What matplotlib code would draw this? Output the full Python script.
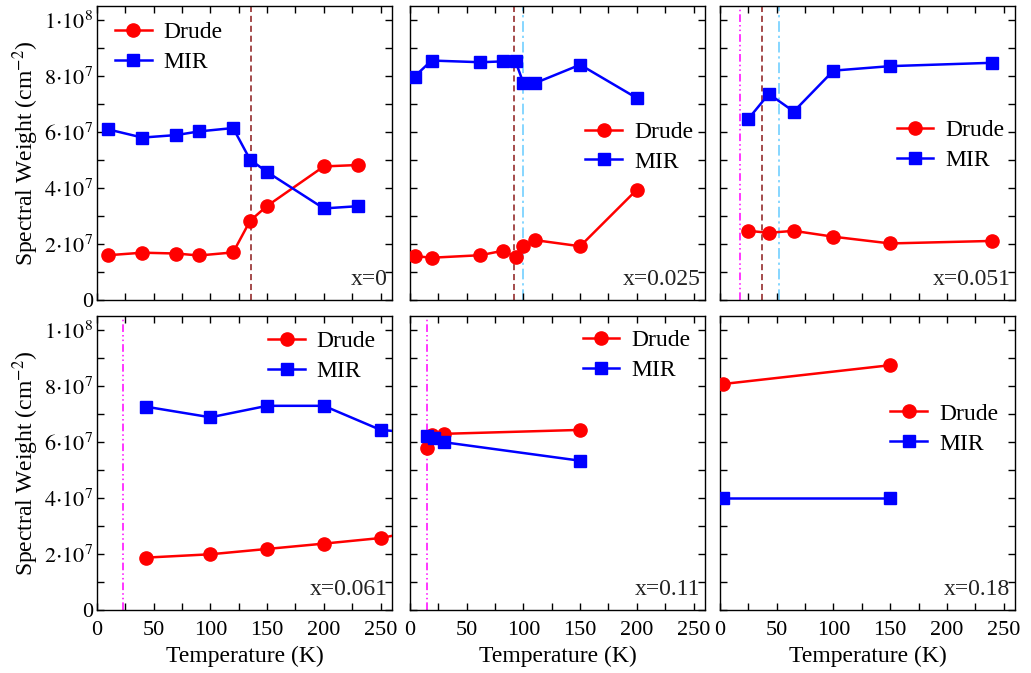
import matplotlib
matplotlib.use("Agg")
import matplotlib.pyplot as plt
from matplotlib.ticker import MultipleLocator, FuncFormatter

plt.rcParams['font.family'] = ['Liberation Serif', 'DejaVu Serif']
plt.rcParams['mathtext.fontset'] = 'stix'

# ---------------- data ----------------
labels = ["x=0", "x=0.025", "x=0.051", "x=0.061", "x=0.11", "x=0.18"]

T_drude_0 = [10, 40, 70, 90, 120, 135, 150, 200, 230]
drude_0 = [1.60e7, 1.69e7, 1.66e7, 1.59e7, 1.70e7, 2.83e7, 3.36e7, 4.77e7, 4.82e7]
T_mir_0 = [10, 40, 70, 90, 120, 135, 150, 200, 230]
mir_0 = [6.09e7, 5.80e7, 5.89e7, 6.02e7, 6.14e7, 5.01e7, 4.57e7, 3.27e7, 3.35e7]

T_drude_1 = [4, 19, 62, 82, 93, 100, 110, 150, 200]
drude_1 = [1.57e7, 1.51e7, 1.60e7, 1.76e7, 1.54e7, 1.94e7, 2.14e7, 1.92e7, 3.94e7]
T_mir_1 = [4, 19, 62, 82, 93, 100, 110, 150, 200]
mir_1 = [7.98e7, 8.55e7, 8.49e7, 8.52e7, 8.52e7, 7.74e7, 7.74e7, 8.40e7, 7.21e7]

T_drude_2 = [25, 43, 65, 100, 150, 240]
drude_2 = [2.47e7, 2.40e7, 2.47e7, 2.26e7, 2.02e7, 2.11e7]
T_mir_2 = [25, 43, 65, 100, 150, 240]
mir_2 = [6.47e7, 7.36e7, 6.73e7, 8.19e7, 8.35e7, 8.47e7]

T_drude_3 = [43, 100, 150, 200, 250, 300]
drude_3 = [1.87e7, 1.99e7, 2.18e7, 2.37e7, 2.57e7, 2.95e7]
T_mir_3 = [43, 100, 150, 200, 250, 300]
mir_3 = [7.26e7, 6.88e7, 7.29e7, 7.29e7, 6.43e7, 6.26e7]

T_drude_4 = [15, 19, 30, 150]
drude_4 = [5.77e7, 6.25e7, 6.29e7, 6.43e7]
T_mir_4 = [15, 21, 30, 150]
mir_4 = [6.21e7, 6.13e7, 5.99e7, 5.33e7]

T_drude_5 = [3, 150]
drude_5 = [8.07e7, 8.74e7]
T_mir_5 = [3, 150]
mir_5 = [3.99e7, 3.99e7]

# vertical marker temperatures per panel: (T, kind)
vlines = [
    [(136, 'dash')],
    [(92, 'dash'), (100, 'dashdot')],
    [(18, 'dashdotdot'), (37, 'dash'), (52, 'dashdot')],
    [(23, 'dashdotdot')],
    [(15, 'dashdotdot')],
    [],
]

drude_T = [T_drude_0, T_drude_1, T_drude_2, T_drude_3, T_drude_4, T_drude_5]
drude_v = [drude_0, drude_1, drude_2, drude_3, drude_4, drude_5]
mir_T = [T_mir_0, T_mir_1, T_mir_2, T_mir_3, T_mir_4, T_mir_5]
mir_v = [mir_0, mir_1, mir_2, mir_3, mir_4, mir_5]

# legend anchor (axes fraction): left edge of handle, vertical centre of legend
legend_anchor = [
    (0.061, 0.859),
    (0.595, 0.520),
    (0.599, 0.525),
    (0.581, 0.863),
    (0.585, 0.865),
    (0.578, 0.616),
]

vstyles = {
    'dash': dict(color='#8B1A1A', ls=(0, (4, 2.5)), lw=1.1),
    'dashdot': dict(color='#66CCFF', ls=(0, (7, 2.5, 1.5, 2.5)), lw=1.1),
    'dashdotdot': dict(color='#FF00FF', ls=(0, (5, 2, 1, 2, 1, 2)), lw=1.1),
}

def yfmt(v, pos):
    if v == 0:
        return '0'
    e = 7 if v < 1e8 else 8
    m = int(round(v / 10**e))
    return r'$%d{\cdot}10^{%d}$' % (m, e)

fig = plt.figure(figsize=(10.31, 6.73), dpi=100)
W = 0.286
H = 0.437
lefts = [0.0941, 0.3977, 0.6984]
bottoms = [0.5542, 0.0936]

for i in range(6):
    r, c = divmod(i, 3)
    ax = fig.add_axes([lefts[c], bottoms[r], W, H])
    for T, kind in vlines[i]:
        ax.axvline(T, **vstyles[kind], zorder=1)
    ax.plot(drude_T[i], drude_v[i], '-o', color='#FF0000', lw=1.8, ms=9.5,
            label='Drude', zorder=3)
    ax.plot(mir_T[i], mir_v[i], '-s', color='#0000FF', lw=1.8, ms=8.5,
            label='MIR', zorder=3)
    ax.set_xlim(0, 260)
    ax.set_ylim(0, 1.05e8)
    ax.xaxis.set_major_locator(MultipleLocator(50))
    ax.xaxis.set_minor_locator(MultipleLocator(25))
    ax.yaxis.set_major_locator(MultipleLocator(2e7))
    ax.yaxis.set_minor_locator(MultipleLocator(1e7))
    ax.tick_params(which='both', direction='in', top=True, right=True,
                   labelsize=16)
    ax.tick_params(which='major', length=5, width=1)
    ax.tick_params(which='minor', length=5, width=1)
    ax.tick_params(axis='y', which='major', pad=3)
    ax.tick_params(axis='x', which='major', pad=8)
    for s in ax.spines.values():
        s.set_linewidth(1.0)
    if c == 0:
        ax.yaxis.set_major_formatter(FuncFormatter(yfmt))
        ax.set_ylabel(r'Spectral Weight (cm$^{-2}$)', fontsize=17, labelpad=2)
    else:
        ax.tick_params(labelleft=False)
    if r == 0:
        ax.tick_params(labelbottom=False)
    else:
        ax.set_xlabel('Temperature (K)', fontsize=17, labelpad=4)
    ax.text(0.985, 0.035, labels[i], transform=ax.transAxes, ha='right',
            va='bottom', fontsize=17, color='#222222')
    ax.legend(frameon=False, fontsize=17, handlelength=1.55,
              handletextpad=0.5, labelspacing=0.35, borderaxespad=0.0,
              borderpad=0.0, loc='center left',
              bbox_to_anchor=legend_anchor[i])

fig.savefig('out.png', dpi=100)
